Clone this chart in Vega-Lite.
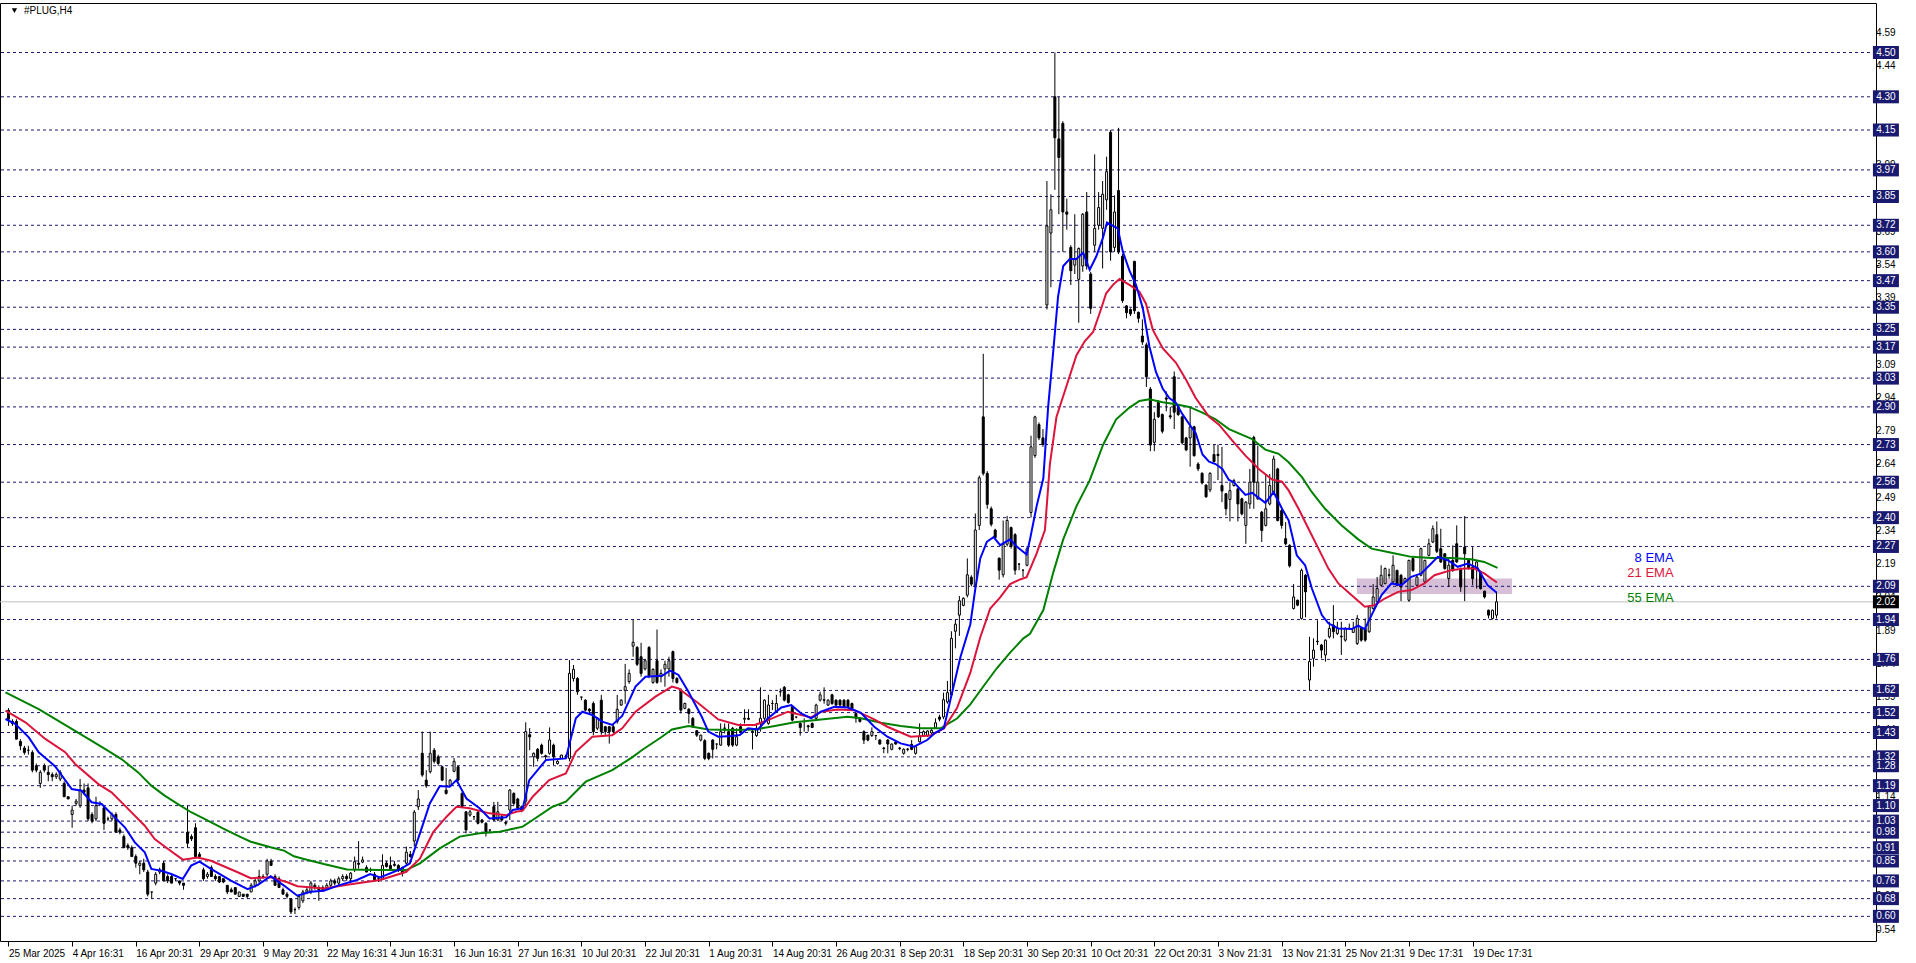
{
"$schema":"https://vega.github.io/schema/vega-lite/v6.json",
"width":1876,"height":938,
"autosize":{"type":"none"},
"padding":{"left":0,"top":3,"right":40,"bottom":22},
"background":"#ffffff",
"config":{"view":{"stroke":"#000000","strokeWidth":1},"font":"Liberation Sans","axis":{"labelOverlap":false,"labelFlush":false,"labelBound":false}},
"datasets":{
"box":[{"x1":338.9,"x2":377.9,"y1":2.055,"y2":2.125}],
"levels":[{"v":4.50},{"v":4.30},{"v":4.15},{"v":3.97},{"v":3.85},{"v":3.72},{"v":3.60},{"v":3.47},{"v":3.35},{"v":3.25},{"v":3.17},{"v":3.03},{"v":2.90},{"v":2.73},{"v":2.56},{"v":2.40},{"v":2.27},{"v":2.09},{"v":1.94},{"v":1.76},{"v":1.62},{"v":1.52},{"v":1.43},{"v":1.32},{"v":1.28},{"v":1.19},{"v":1.10},{"v":1.03},{"v":0.98},{"v":0.91},{"v":0.85},{"v":0.76},{"v":0.68},{"v":0.60}],
"pticks":[{"v":0.54},{"v":0.69},{"v":0.84},{"v":0.99},{"v":1.14},{"v":1.29},{"v":1.44},{"v":1.59},{"v":1.74},{"v":1.89},{"v":2.04},{"v":2.19},{"v":2.34},{"v":2.49},{"v":2.64},{"v":2.79},{"v":2.94},{"v":3.09},{"v":3.24},{"v":3.39},{"v":3.54},{"v":3.69},{"v":3.84},{"v":3.99},{"v":4.14},{"v":4.29},{"v":4.44},{"v":4.59}],
"bid":[{"v":2.02}],
"candles":[
{"i":0,"o":1.53,"h":1.54,"l":1.46,"c":1.49},{"i":1,"o":1.48,"h":1.49,"l":1.46,"c":1.47},{"i":2,"o":1.48,"h":1.49,"l":1.40,"c":1.40},{"i":3,"o":1.39,"h":1.40,"l":1.35,"c":1.37},{"i":4,"o":1.36,"h":1.37,"l":1.33,"c":1.34},{"i":5,"o":1.35,"h":1.37,"l":1.33,"c":1.35},{"i":6,"o":1.34,"h":1.35,"l":1.25,"c":1.26},{"i":7,"o":1.28,"h":1.29,"l":1.25,"c":1.26},{"i":8,"o":1.20,"h":1.26,"l":1.18,"c":1.25},{"i":9,"o":1.28,"h":1.29,"l":1.25,"c":1.26},
{"i":10,"o":1.25,"h":1.28,"l":1.21,"c":1.24},{"i":11,"o":1.24,"h":1.25,"l":1.21,"c":1.23},{"i":12,"o":1.23,"h":1.25,"l":1.22,"c":1.24},{"i":13,"o":1.22,"h":1.26,"l":1.21,"c":1.25},{"i":14,"o":1.20,"h":1.21,"l":1.14,"c":1.14},{"i":15,"o":1.14,"h":1.14,"l":1.13,"c":1.13},{"i":16,"o":1.06,"h":1.10,"l":1.00,"c":1.08},{"i":17,"o":1.11,"h":1.13,"l":1.10,"c":1.12},{"i":18,"o":1.10,"h":1.22,"l":1.09,"c":1.17},{"i":19,"o":1.17,"h":1.20,"l":1.15,"c":1.16},
{"i":20,"o":1.18,"h":1.20,"l":1.03,"c":1.04},{"i":21,"o":1.06,"h":1.07,"l":1.02,"c":1.03},{"i":22,"o":1.04,"h":1.14,"l":1.03,"c":1.10},{"i":23,"o":1.11,"h":1.12,"l":1.10,"c":1.11},{"i":24,"o":1.09,"h":1.10,"l":0.99,"c":1.02},{"i":25,"o":1.04,"h":1.05,"l":1.03,"c":1.04},{"i":26,"o":1.04,"h":1.07,"l":1.03,"c":1.06},{"i":27,"o":1.06,"h":1.07,"l":0.98,"c":0.98},{"i":28,"o":0.99,"h":1.00,"l":0.97,"c":0.98},{"i":29,"o":0.96,"h":0.97,"l":0.91,"c":0.91},
{"i":30,"o":0.92,"h":0.93,"l":0.90,"c":0.91},{"i":31,"o":0.91,"h":0.92,"l":0.87,"c":0.87},{"i":32,"o":0.87,"h":0.88,"l":0.82,"c":0.84},{"i":33,"o":0.83,"h":0.85,"l":0.79,"c":0.84},{"i":34,"o":0.84,"h":0.86,"l":0.80,"c":0.81},{"i":35,"o":0.80,"h":0.81,"l":0.69,"c":0.70},{"i":36,"o":0.71,"h":0.71,"l":0.68,"c":0.71},{"i":37,"o":0.75,"h":0.80,"l":0.74,"c":0.79},{"i":38,"o":0.80,"h":0.82,"l":0.79,"c":0.81},{"i":39,"o":0.84,"h":0.85,"l":0.76,"c":0.76},
{"i":40,"o":0.78,"h":0.79,"l":0.75,"c":0.76},{"i":41,"o":0.78,"h":0.79,"l":0.75,"c":0.75},{"i":42,"o":0.77,"h":0.77,"l":0.76,"c":0.77},{"i":43,"o":0.76,"h":0.76,"l":0.74,"c":0.75},{"i":44,"o":0.75,"h":0.75,"l":0.72,"c":0.74},{"i":45,"o":0.98,"h":1.10,"l":0.91,"c":0.93},{"i":46,"o":0.96,"h":0.97,"l":0.94,"c":0.95},{"i":47,"o":1.00,"h":1.02,"l":0.87,"c":0.87},{"i":48,"o":0.88,"h":0.89,"l":0.86,"c":0.87},{"i":49,"o":0.81,"h":0.82,"l":0.76,"c":0.77},
{"i":50,"o":0.78,"h":0.80,"l":0.77,"c":0.79},{"i":51,"o":0.82,"h":0.83,"l":0.78,"c":0.78},{"i":52,"o":0.78,"h":0.79,"l":0.76,"c":0.77},{"i":53,"o":0.78,"h":0.78,"l":0.75,"c":0.755},{"i":54,"o":0.77,"h":0.77,"l":0.75,"c":0.755},{"i":55,"o":0.74,"h":0.74,"l":0.70,"c":0.71},{"i":56,"o":0.72,"h":0.73,"l":0.71,"c":0.71},{"i":57,"o":0.73,"h":0.73,"l":0.70,"c":0.70},{"i":58,"o":0.69,"h":0.71,"l":0.69,"c":0.71},{"i":59,"o":0.70,"h":0.70,"l":0.69,"c":0.69},
{"i":60,"o":0.70,"h":0.70,"l":0.68,"c":0.69},{"i":61,"o":0.71,"h":0.75,"l":0.71,"c":0.74},{"i":62,"o":0.74,"h":0.77,"l":0.73,"c":0.76},{"i":63,"o":0.76,"h":0.81,"l":0.75,"c":0.78},{"i":64,"o":0.78,"h":0.79,"l":0.77,"c":0.78},{"i":65,"o":0.79,"h":0.86,"l":0.78,"c":0.85},{"i":66,"o":0.85,"h":0.86,"l":0.83,"c":0.83},{"i":67,"o":0.78,"h":0.79,"l":0.74,"c":0.74},{"i":68,"o":0.77,"h":0.78,"l":0.73,"c":0.73},{"i":69,"o":0.72,"h":0.73,"l":0.70,"c":0.70},
{"i":70,"o":0.70,"h":0.71,"l":0.68,"c":0.69},{"i":71,"o":0.68,"h":0.68,"l":0.61,"c":0.62},{"i":72,"o":0.63,"h":0.64,"l":0.61,"c":0.63},{"i":73,"o":0.64,"h":0.70,"l":0.63,"c":0.69},{"i":74,"o":0.67,"h":0.72,"l":0.66,"c":0.71},{"i":75,"o":0.71,"h":0.73,"l":0.70,"c":0.72},{"i":76,"o":0.71,"h":0.76,"l":0.70,"c":0.75},{"i":77,"o":0.74,"h":0.75,"l":0.72,"c":0.73},{"i":78,"o":0.73,"h":0.74,"l":0.67,"c":0.72},{"i":79,"o":0.72,"h":0.74,"l":0.71,"c":0.73},
{"i":80,"o":0.73,"h":0.75,"l":0.72,"c":0.74},{"i":81,"o":0.74,"h":0.77,"l":0.73,"c":0.76},{"i":82,"o":0.76,"h":0.77,"l":0.74,"c":0.75},{"i":83,"o":0.75,"h":0.78,"l":0.74,"c":0.77},{"i":84,"o":0.77,"h":0.79,"l":0.76,"c":0.78},{"i":85,"o":0.78,"h":0.79,"l":0.76,"c":0.77},{"i":86,"o":0.77,"h":0.80,"l":0.76,"c":0.795},{"i":87,"o":0.81,"h":0.87,"l":0.80,"c":0.847},{"i":88,"o":0.84,"h":0.94,"l":0.815,"c":0.835},{"i":89,"o":0.845,"h":0.87,"l":0.84,"c":0.855},
{"i":90,"o":0.82,"h":0.83,"l":0.80,"c":0.80},{"i":91,"o":0.81,"h":0.82,"l":0.80,"c":0.81},{"i":92,"o":0.79,"h":0.80,"l":0.76,"c":0.765},{"i":93,"o":0.77,"h":0.78,"l":0.755,"c":0.77},{"i":94,"o":0.77,"h":0.88,"l":0.765,"c":0.83},{"i":95,"o":0.84,"h":0.85,"l":0.82,"c":0.825},{"i":96,"o":0.83,"h":0.87,"l":0.81,"c":0.815},{"i":97,"o":0.835,"h":0.85,"l":0.825,"c":0.83},{"i":98,"o":0.83,"h":0.835,"l":0.80,"c":0.81},{"i":99,"o":0.82,"h":0.825,"l":0.78,"c":0.795},
{"i":100,"o":0.84,"h":0.915,"l":0.83,"c":0.89},{"i":101,"o":0.88,"h":0.895,"l":0.865,"c":0.87},{"i":102,"o":0.94,"h":1.08,"l":0.915,"c":1.07},{"i":103,"o":1.095,"h":1.17,"l":1.08,"c":1.13},{"i":104,"o":1.336,"h":1.434,"l":1.23,"c":1.238},{"i":105,"o":1.215,"h":1.26,"l":1.18,"c":1.19},{"i":106,"o":1.253,"h":1.434,"l":1.245,"c":1.336},{"i":107,"o":1.35,"h":1.36,"l":1.29,"c":1.30},{"i":108,"o":1.32,"h":1.33,"l":1.28,"c":1.29},{"i":109,"o":1.275,"h":1.28,"l":1.21,"c":1.215},
{"i":110,"o":1.17,"h":1.27,"l":1.15,"c":1.155},{"i":111,"o":1.19,"h":1.22,"l":1.185,"c":1.215},{"i":112,"o":1.255,"h":1.315,"l":1.25,"c":1.30},{"i":113,"o":1.275,"h":1.28,"l":1.21,"c":1.215},{"i":114,"o":1.155,"h":1.16,"l":1.09,"c":1.095},{"i":115,"o":1.072,"h":1.075,"l":0.975,"c":0.99},{"i":116,"o":1.057,"h":1.08,"l":1.05,"c":1.072},{"i":117,"o":1.05,"h":1.05,"l":1.035,"c":1.05},{"i":118,"o":1.07,"h":1.075,"l":1.015,"c":1.02},{"i":119,"o":1.035,"h":1.04,"l":1.02,"c":1.025},
{"i":120,"o":1.02,"h":1.025,"l":0.96,"c":0.982},{"i":121,"o":0.99,"h":0.99,"l":0.975,"c":0.99},{"i":122,"o":1.095,"h":1.117,"l":1.03,"c":1.035},{"i":123,"o":1.035,"h":1.117,"l":1.03,"c":1.072},{"i":124,"o":1.05,"h":1.06,"l":1.03,"c":1.035},{"i":125,"o":1.025,"h":1.03,"l":1.01,"c":1.02},{"i":126,"o":1.08,"h":1.175,"l":1.035,"c":1.17},{"i":127,"o":1.155,"h":1.16,"l":1.10,"c":1.11},{"i":128,"o":1.13,"h":1.135,"l":1.08,"c":1.088},{"i":129,"o":1.095,"h":1.10,"l":1.07,"c":1.08},
{"i":130,"o":1.12,"h":1.476,"l":1.09,"c":1.434},{"i":131,"o":1.42,"h":1.45,"l":1.35,"c":1.41},{"i":132,"o":1.32,"h":1.34,"l":1.275,"c":1.336},{"i":133,"o":1.354,"h":1.36,"l":1.30,"c":1.313},{"i":134,"o":1.373,"h":1.38,"l":1.33,"c":1.336},{"i":135,"o":1.325,"h":1.33,"l":1.31,"c":1.32},{"i":136,"o":1.336,"h":1.453,"l":1.33,"c":1.396},{"i":137,"o":1.373,"h":1.38,"l":1.283,"c":1.32},{"i":138,"o":1.29,"h":1.305,"l":1.285,"c":1.30},{"i":139,"o":1.313,"h":1.33,"l":1.31,"c":1.328},
{"i":140,"o":1.32,"h":1.33,"l":1.315,"c":1.32},{"i":141,"o":1.313,"h":1.757,"l":1.30,"c":1.697},{"i":142,"o":1.674,"h":1.735,"l":1.66,"c":1.715},{"i":143,"o":1.674,"h":1.68,"l":1.60,"c":1.614},{"i":144,"o":1.59,"h":1.59,"l":1.576,"c":1.59},{"i":145,"o":1.576,"h":1.58,"l":1.525,"c":1.531},{"i":146,"o":1.535,"h":1.54,"l":1.52,"c":1.528},{"i":147,"o":1.561,"h":1.57,"l":1.418,"c":1.434},{"i":148,"o":1.449,"h":1.50,"l":1.44,"c":1.494},{"i":149,"o":1.576,"h":1.60,"l":1.42,"c":1.434},
{"i":150,"o":1.456,"h":1.46,"l":1.42,"c":1.434},{"i":151,"o":1.456,"h":1.46,"l":1.38,"c":1.434},{"i":152,"o":1.456,"h":1.47,"l":1.43,"c":1.434},{"i":153,"o":1.479,"h":1.60,"l":1.47,"c":1.535},{"i":154,"o":1.554,"h":1.58,"l":1.55,"c":1.576},{"i":155,"o":1.62,"h":1.74,"l":1.56,"c":1.637},{"i":156,"o":1.66,"h":1.715,"l":1.65,"c":1.697},{"i":157,"o":1.82,"h":1.938,"l":1.772,"c":1.837},{"i":158,"o":1.814,"h":1.82,"l":1.73,"c":1.738},{"i":159,"o":1.772,"h":1.835,"l":1.682,"c":1.697},
{"i":160,"o":1.717,"h":1.76,"l":1.71,"c":1.754},{"i":161,"o":1.814,"h":1.82,"l":1.675,"c":1.682},{"i":162,"o":1.656,"h":1.72,"l":1.65,"c":1.715},{"i":163,"o":1.754,"h":1.895,"l":1.65,"c":1.656},{"i":164,"o":1.682,"h":1.715,"l":1.656,"c":1.697},{"i":165,"o":1.717,"h":1.754,"l":1.637,"c":1.738},{"i":166,"o":1.717,"h":1.772,"l":1.682,"c":1.754},{"i":167,"o":1.795,"h":1.80,"l":1.656,"c":1.674},{"i":168,"o":1.674,"h":1.68,"l":1.65,"c":1.656},{"i":169,"o":1.622,"h":1.63,"l":1.516,"c":1.531},
{"i":170,"o":1.539,"h":1.565,"l":1.535,"c":1.561},{"i":171,"o":1.535,"h":1.54,"l":1.471,"c":1.516},{"i":172,"o":1.494,"h":1.50,"l":1.45,"c":1.456},{"i":173,"o":1.438,"h":1.44,"l":1.41,"c":1.418},{"i":174,"o":1.396,"h":1.42,"l":1.39,"c":1.418},{"i":175,"o":1.393,"h":1.40,"l":1.305,"c":1.313},{"i":176,"o":1.336,"h":1.34,"l":1.305,"c":1.313},{"i":177,"o":1.396,"h":1.40,"l":1.313,"c":1.354},{"i":178,"o":1.378,"h":1.378,"l":1.354,"c":1.378},{"i":179,"o":1.373,"h":1.471,"l":1.37,"c":1.434},
{"i":180,"o":1.45,"h":1.471,"l":1.426,"c":1.449},{"i":181,"o":1.434,"h":1.471,"l":1.365,"c":1.373},{"i":182,"o":1.449,"h":1.455,"l":1.365,"c":1.373},{"i":183,"o":1.373,"h":1.449,"l":1.368,"c":1.411},{"i":184,"o":1.456,"h":1.471,"l":1.43,"c":1.434},{"i":185,"o":1.49,"h":1.535,"l":1.471,"c":1.494},{"i":186,"o":1.494,"h":1.535,"l":1.486,"c":1.49},{"i":187,"o":1.436,"h":1.441,"l":1.354,"c":1.434},{"i":188,"o":1.416,"h":1.471,"l":1.41,"c":1.449},{"i":189,"o":1.471,"h":1.634,"l":1.434,"c":1.494},
{"i":190,"o":1.494,"h":1.58,"l":1.471,"c":1.576},{"i":191,"o":1.471,"h":1.60,"l":1.465,"c":1.554},{"i":192,"o":1.561,"h":1.576,"l":1.531,"c":1.561},{"i":193,"o":1.524,"h":1.60,"l":1.52,"c":1.561},{"i":194,"o":1.614,"h":1.629,"l":1.592,"c":1.614},{"i":195,"o":1.634,"h":1.64,"l":1.57,"c":1.576},{"i":196,"o":1.60,"h":1.605,"l":1.56,"c":1.566},{"i":197,"o":1.546,"h":1.55,"l":1.48,"c":1.486},{"i":198,"o":1.50,"h":1.50,"l":1.494,"c":1.50},{"i":199,"o":1.471,"h":1.475,"l":1.416,"c":1.453},
{"i":200,"o":1.48,"h":1.494,"l":1.434,"c":1.479},{"i":201,"o":1.46,"h":1.465,"l":1.434,"c":1.456},{"i":202,"o":1.471,"h":1.475,"l":1.45,"c":1.453},{"i":203,"o":1.494,"h":1.56,"l":1.49,"c":1.554},{"i":204,"o":1.576,"h":1.614,"l":1.57,"c":1.60},{"i":205,"o":1.578,"h":1.634,"l":1.56,"c":1.576},{"i":206,"o":1.554,"h":1.58,"l":1.55,"c":1.576},{"i":207,"o":1.60,"h":1.605,"l":1.555,"c":1.561},{"i":208,"o":1.576,"h":1.58,"l":1.55,"c":1.554},{"i":209,"o":1.576,"h":1.58,"l":1.55,"c":1.554},
{"i":210,"o":1.576,"h":1.58,"l":1.54,"c":1.546},{"i":211,"o":1.576,"h":1.58,"l":1.54,"c":1.546},{"i":212,"o":1.561,"h":1.565,"l":1.53,"c":1.535},{"i":213,"o":1.516,"h":1.52,"l":1.474,"c":1.494},{"i":214,"o":1.494,"h":1.50,"l":1.475,"c":1.48},{"i":215,"o":1.434,"h":1.44,"l":1.378,"c":1.396},{"i":216,"o":1.418,"h":1.42,"l":1.39,"c":1.396},{"i":217,"o":1.416,"h":1.453,"l":1.41,"c":1.434},{"i":218,"o":1.416,"h":1.416,"l":1.396,"c":1.416},{"i":219,"o":1.396,"h":1.40,"l":1.375,"c":1.378},
{"i":220,"o":1.36,"h":1.365,"l":1.336,"c":1.358},{"i":221,"o":1.396,"h":1.40,"l":1.336,"c":1.378},{"i":222,"o":1.354,"h":1.38,"l":1.35,"c":1.378},{"i":223,"o":1.388,"h":1.39,"l":1.375,"c":1.378},{"i":224,"o":1.36,"h":1.365,"l":1.35,"c":1.358},{"i":225,"o":1.336,"h":1.358,"l":1.33,"c":1.354},{"i":226,"o":1.355,"h":1.36,"l":1.345,"c":1.354},{"i":227,"o":1.376,"h":1.396,"l":1.35,"c":1.354},{"i":228,"o":1.336,"h":1.37,"l":1.33,"c":1.366},{"i":229,"o":1.388,"h":1.471,"l":1.385,"c":1.414},
{"i":230,"o":1.416,"h":1.44,"l":1.41,"c":1.434},{"i":231,"o":1.416,"h":1.44,"l":1.41,"c":1.437},{"i":232,"o":1.428,"h":1.45,"l":1.42,"c":1.44},{"i":233,"o":1.453,"h":1.494,"l":1.45,"c":1.474},{"i":234,"o":1.50,"h":1.51,"l":1.48,"c":1.49},{"i":235,"o":1.50,"h":1.61,"l":1.49,"c":1.578},{"i":236,"o":1.568,"h":1.663,"l":1.56,"c":1.61},{"i":237,"o":1.60,"h":1.887,"l":1.59,"c":1.855},{"i":238,"o":1.887,"h":1.94,"l":1.81,"c":1.919},{"i":239,"o":1.96,"h":2.046,"l":1.866,"c":2.025},
{"i":240,"o":2.004,"h":2.04,"l":2.00,"c":2.036},{"i":241,"o":2.05,"h":2.216,"l":2.04,"c":2.142},{"i":242,"o":2.131,"h":2.14,"l":2.09,"c":2.10},{"i":243,"o":2.089,"h":2.419,"l":2.08,"c":2.344},{"i":244,"o":2.365,"h":2.59,"l":2.344,"c":2.58},{"i":245,"o":2.855,"h":3.14,"l":2.59,"c":2.60},{"i":246,"o":2.60,"h":2.61,"l":2.44,"c":2.46},{"i":247,"o":2.44,"h":2.45,"l":2.36,"c":2.37},{"i":248,"o":2.344,"h":2.35,"l":2.30,"c":2.31},{"i":249,"o":2.217,"h":2.22,"l":2.12,"c":2.163},
{"i":250,"o":2.142,"h":2.387,"l":2.13,"c":2.28},{"i":251,"o":2.28,"h":2.408,"l":2.27,"c":2.387},{"i":252,"o":2.355,"h":2.36,"l":2.26,"c":2.27},{"i":253,"o":2.323,"h":2.33,"l":2.142,"c":2.163},{"i":254,"o":2.19,"h":2.195,"l":2.163,"c":2.19},{"i":255,"o":2.163,"h":2.165,"l":2.131,"c":2.163},{"i":256,"o":2.185,"h":2.27,"l":2.18,"c":2.259},{"i":257,"o":2.423,"h":2.77,"l":2.40,"c":2.72},{"i":258,"o":2.68,"h":2.86,"l":2.67,"c":2.855},{"i":259,"o":2.82,"h":2.83,"l":2.75,"c":2.76},
{"i":260,"o":2.76,"h":2.80,"l":2.72,"c":2.73},{"i":261,"o":3.36,"h":3.92,"l":3.34,"c":3.717},{"i":262,"o":3.685,"h":3.86,"l":3.44,"c":3.79},{"i":263,"o":4.30,"h":4.50,"l":3.88,"c":4.115},{"i":264,"o":4.11,"h":4.30,"l":3.77,"c":4.026},{"i":265,"o":4.18,"h":4.19,"l":3.60,"c":3.78},{"i":266,"o":3.78,"h":3.84,"l":3.70,"c":3.77},{"i":267,"o":3.62,"h":3.63,"l":3.45,"c":3.515},{"i":268,"o":3.54,"h":3.77,"l":3.50,"c":3.57},{"i":269,"o":3.476,"h":3.62,"l":3.28,"c":3.615},
{"i":270,"o":3.536,"h":3.775,"l":3.51,"c":3.77},{"i":271,"o":3.78,"h":3.87,"l":3.52,"c":3.536},{"i":272,"o":3.50,"h":3.51,"l":3.32,"c":3.345},{"i":273,"o":3.63,"h":4.04,"l":3.60,"c":3.706},{"i":274,"o":3.72,"h":3.87,"l":3.70,"c":3.80},{"i":275,"o":3.706,"h":3.92,"l":3.525,"c":3.86},{"i":276,"o":3.835,"h":4.03,"l":3.79,"c":3.962},{"i":277,"o":4.14,"h":4.15,"l":3.56,"c":3.60},{"i":278,"o":3.62,"h":3.855,"l":3.60,"c":3.78},{"i":279,"o":3.877,"h":4.16,"l":3.59,"c":3.60},
{"i":280,"o":3.58,"h":3.59,"l":3.37,"c":3.38},{"i":281,"o":3.356,"h":3.36,"l":3.30,"c":3.325},{"i":282,"o":3.34,"h":3.345,"l":3.31,"c":3.32},{"i":283,"o":3.557,"h":3.56,"l":3.32,"c":3.334},{"i":284,"o":3.327,"h":3.33,"l":3.28,"c":3.30},{"i":285,"o":3.22,"h":3.295,"l":3.18,"c":3.193},{"i":286,"o":3.18,"h":3.19,"l":2.99,"c":3.036},{"i":287,"o":2.98,"h":2.99,"l":2.70,"c":2.728},{"i":288,"o":2.74,"h":2.876,"l":2.70,"c":2.844},{"i":289,"o":2.92,"h":2.93,"l":2.85,"c":2.855},
{"i":290,"o":2.866,"h":2.87,"l":2.78,"c":2.79},{"i":291,"o":2.94,"h":2.97,"l":2.88,"c":2.935},{"i":292,"o":2.86,"h":2.90,"l":2.845,"c":2.855},{"i":293,"o":3.036,"h":3.06,"l":2.80,"c":2.876},{"i":294,"o":2.897,"h":2.90,"l":2.86,"c":2.865},{"i":295,"o":2.855,"h":2.86,"l":2.73,"c":2.738},{"i":296,"o":2.76,"h":2.765,"l":2.70,"c":2.706},{"i":297,"o":2.76,"h":2.897,"l":2.63,"c":2.81},{"i":298,"o":2.81,"h":2.815,"l":2.675,"c":2.68},{"i":299,"o":2.642,"h":2.65,"l":2.61,"c":2.62},
{"i":300,"o":2.60,"h":2.605,"l":2.55,"c":2.557},{"i":301,"o":2.547,"h":2.55,"l":2.49,"c":2.494},{"i":302,"o":2.525,"h":2.605,"l":2.515,"c":2.60},{"i":303,"o":2.685,"h":2.73,"l":2.65,"c":2.653},{"i":304,"o":2.686,"h":2.73,"l":2.57,"c":2.68},{"i":305,"o":2.545,"h":2.72,"l":2.47,"c":2.52},{"i":306,"o":2.508,"h":2.51,"l":2.41,"c":2.44},{"i":307,"o":2.482,"h":2.56,"l":2.383,"c":2.522},{"i":308,"o":2.545,"h":2.575,"l":2.54,"c":2.567},{"i":309,"o":2.53,"h":2.535,"l":2.383,"c":2.462},
{"i":310,"o":2.485,"h":2.49,"l":2.41,"c":2.417},{"i":311,"o":2.365,"h":2.475,"l":2.282,"c":2.47},{"i":312,"o":2.462,"h":2.62,"l":2.44,"c":2.56},{"i":313,"o":2.762,"h":2.77,"l":2.44,"c":2.56},{"i":314,"o":2.485,"h":2.725,"l":2.48,"c":2.56},{"i":315,"o":2.425,"h":2.43,"l":2.29,"c":2.342},{"i":316,"o":2.365,"h":2.597,"l":2.36,"c":2.44},{"i":317,"o":2.462,"h":2.597,"l":2.455,"c":2.545},{"i":318,"o":2.515,"h":2.68,"l":2.51,"c":2.665},{"i":319,"o":2.62,"h":2.625,"l":2.383,"c":2.387},
{"i":320,"o":2.432,"h":2.44,"l":2.35,"c":2.365},{"i":321,"o":2.305,"h":2.38,"l":2.275,"c":2.282},{"i":322,"o":2.275,"h":2.28,"l":2.175,"c":2.182},{"i":323,"o":1.99,"h":2.10,"l":1.985,"c":2.042},{"i":324,"o":2.027,"h":2.03,"l":2.00,"c":2.005},{"i":325,"o":1.945,"h":2.17,"l":1.94,"c":2.162},{"i":326,"o":2.14,"h":2.145,"l":1.95,"c":2.065},{"i":327,"o":1.667,"h":1.862,"l":1.62,"c":1.75},{"i":328,"o":1.765,"h":1.855,"l":1.727,"c":1.802},{"i":329,"o":1.842,"h":1.937,"l":1.825,"c":1.84},
{"i":330,"o":1.825,"h":1.83,"l":1.765,"c":1.802},{"i":331,"o":1.78,"h":1.85,"l":1.75,"c":1.847},{"i":332,"o":1.862,"h":1.93,"l":1.855,"c":1.90},{"i":333,"o":1.915,"h":2.005,"l":1.855,"c":1.885},{"i":334,"o":1.877,"h":1.93,"l":1.87,"c":1.90},{"i":335,"o":1.865,"h":1.93,"l":1.78,"c":1.862},{"i":336,"o":1.847,"h":1.905,"l":1.84,"c":1.90},{"i":337,"o":1.90,"h":1.922,"l":1.895,"c":1.90},{"i":338,"o":1.882,"h":1.93,"l":1.88,"c":1.90},{"i":339,"o":1.832,"h":1.96,"l":1.825,"c":1.945},
{"i":340,"o":1.90,"h":1.905,"l":1.84,"c":1.847},{"i":341,"o":1.90,"h":1.945,"l":1.84,"c":1.847},{"i":342,"o":1.885,"h":2.00,"l":1.88,"c":1.997},{"i":343,"o":1.99,"h":2.10,"l":1.985,"c":2.042},{"i":344,"o":2.02,"h":2.132,"l":2.015,"c":2.08},{"i":345,"o":2.095,"h":2.185,"l":2.09,"c":2.14},{"i":346,"o":2.102,"h":2.175,"l":2.10,"c":2.17},{"i":347,"o":2.142,"h":2.17,"l":2.125,"c":2.14},{"i":348,"o":2.11,"h":2.23,"l":2.105,"c":2.185},{"i":349,"o":2.162,"h":2.165,"l":2.09,"c":2.095},
{"i":350,"o":2.14,"h":2.145,"l":2.023,"c":2.087},{"i":351,"o":2.11,"h":2.13,"l":2.105,"c":2.125},{"i":352,"o":2.027,"h":2.21,"l":2.02,"c":2.207},{"i":353,"o":2.215,"h":2.22,"l":2.155,"c":2.162},{"i":354,"o":2.095,"h":2.14,"l":2.09,"c":2.132},{"i":355,"o":2.14,"h":2.265,"l":2.135,"c":2.26},{"i":356,"o":2.11,"h":2.21,"l":2.105,"c":2.207},{"i":357,"o":2.23,"h":2.305,"l":2.225,"c":2.282},{"i":358,"o":2.29,"h":2.365,"l":2.285,"c":2.35},{"i":359,"o":2.323,"h":2.383,"l":2.24,"c":2.248},
{"i":360,"o":2.26,"h":2.35,"l":2.195,"c":2.20},{"i":361,"o":2.237,"h":2.24,"l":2.165,"c":2.17},{"i":362,"o":2.125,"h":2.215,"l":2.087,"c":2.185},{"i":363,"o":2.207,"h":2.275,"l":2.155,"c":2.162},{"i":364,"o":2.282,"h":2.365,"l":2.195,"c":2.20},{"i":365,"o":2.17,"h":2.175,"l":2.065,"c":2.087},{"i":366,"o":2.267,"h":2.407,"l":2.023,"c":2.237},{"i":367,"o":2.207,"h":2.21,"l":2.165,"c":2.173},{"i":368,"o":2.177,"h":2.267,"l":2.095,"c":2.125},{"i":369,"o":2.17,"h":2.205,"l":2.08,"c":2.20},
{"i":370,"o":2.155,"h":2.16,"l":2.075,"c":2.08},{"i":371,"o":2.068,"h":2.07,"l":2.035,"c":2.042},{"i":372,"o":1.982,"h":1.985,"l":1.945,"c":1.96},{"i":373,"o":1.945,"h":1.985,"l":1.94,"c":1.982},{"i":374,"o":1.96,"h":2.065,"l":1.945,"c":2.02}
],
"e8":[{"i":-0.75,"v":1.491},{"i":1.75,"v":1.468},{"i":5.1,"v":1.408},{"i":7.6,"v":1.341},{"i":11.75,"v":1.277},{"i":15.9,"v":1.175},{"i":18.4,"v":1.167},{"i":20.9,"v":1.115},{"i":23.4,"v":1.107},{"i":26.75,"v":1.047},{"i":29.25,"v":1.002},{"i":31.75,"v":0.934},{"i":34.25,"v":0.889},{"i":35.9,"v":0.814},{"i":38.4,"v":0.806},{"i":40.9,"v":0.791},{"i":43.8,"v":0.769},{"i":45.9,"v":0.829},{"i":48,"v":0.847},{"i":50.9,"v":0.814},{"i":55.9,"v":0.761},{"i":60.1,"v":0.723},{"i":62.6,"v":0.741},{"i":65.9,"v":0.781},{"i":69.25,"v":0.739},{"i":72.6,"v":0.693},{"i":75.9,"v":0.711},{"i":79.25,"v":0.716},{"i":83,"v":0.74},{"i":87.6,"v":0.764},{"i":90.9,"v":0.791},{"i":93.4,"v":0.776},{"i":98.4,"v":0.812},{"i":100.9,"v":0.839},{"i":104.25,"v":1.02},{"i":105.9,"v":1.11},{"i":108.4,"v":1.188},{"i":110.9,"v":1.185},{"i":112.6,"v":1.215},{"i":115.1,"v":1.132},{"i":118.4,"v":1.088},{"i":120.9,"v":1.042},{"i":125.1,"v":1.047},{"i":126.75,"v":1.08},{"i":129.25,"v":1.088},{"i":130.9,"v":1.215},{"i":135.1,"v":1.306},{"i":140.1,"v":1.313},{"i":142.6,"v":1.494},{"i":144.25,"v":1.524},{"i":146.75,"v":1.509},{"i":149.25,"v":1.479},{"i":151.75,"v":1.464},{"i":154.25,"v":1.505},{"i":157.6,"v":1.637},{"i":160.1,"v":1.682},{"i":164.25,"v":1.686},{"i":166.3,"v":1.709},{"i":168.4,"v":1.69},{"i":170.9,"v":1.614},{"i":174.25,"v":1.501},{"i":175.9,"v":1.434},{"i":178.4,"v":1.411},{"i":181.75,"v":1.414},{"i":183.8,"v":1.419},{"i":185.9,"v":1.449},{"i":188.4,"v":1.444},{"i":190.9,"v":1.494},{"i":194.25,"v":1.543},{"i":196.75,"v":1.554},{"i":199.25,"v":1.516},{"i":201.75,"v":1.494},{"i":204.25,"v":1.524},{"i":207.6,"v":1.546},{"i":210.9,"v":1.543},{"i":214.25,"v":1.519},{"i":217.6,"v":1.456},{"i":220.9,"v":1.411},{"i":224.25,"v":1.381},{"i":227.6,"v":1.366},{"i":230.9,"v":1.396},{"i":233,"v":1.43},{"i":235.1,"v":1.45},{"i":236.75,"v":1.578},{"i":239.25,"v":1.77},{"i":241.75,"v":1.919},{"i":243,"v":2.078},{"i":244.25,"v":2.216},{"i":245.9,"v":2.291},{"i":247.6,"v":2.312},{"i":249.25,"v":2.276},{"i":251.75,"v":2.302},{"i":253.4,"v":2.27},{"i":255.9,"v":2.234},{"i":256.75,"v":2.302},{"i":258.4,"v":2.451},{"i":260.1,"v":2.578},{"i":261.3,"v":2.898},{"i":262.6,"v":3.153},{"i":263.8,"v":3.398},{"i":265.1,"v":3.536},{"i":266.75,"v":3.568},{"i":268.4,"v":3.568},{"i":270.1,"v":3.596},{"i":271.75,"v":3.519},{"i":273.4,"v":3.579},{"i":275.1,"v":3.664},{"i":276.1,"v":3.732},{"i":277.6,"v":3.717},{"i":278.8,"v":3.706},{"i":280.1,"v":3.6},{"i":281.75,"v":3.515},{"i":283.4,"v":3.451},{"i":285.1,"v":3.345},{"i":286.75,"v":3.174},{"i":288.4,"v":3.058},{"i":290.1,"v":2.983},{"i":291.75,"v":2.94},{"i":293.4,"v":2.919},{"i":295.1,"v":2.866},{"i":296.75,"v":2.823},{"i":298.4,"v":2.781},{"i":300.1,"v":2.685},{"i":301.75,"v":2.653},{"i":303.4,"v":2.642},{"i":305.1,"v":2.62},{"i":306.75,"v":2.57},{"i":308,"v":2.56},{"i":310.9,"v":2.503},{"i":312.6,"v":2.512},{"i":315.9,"v":2.467},{"i":318,"v":2.515},{"i":320.1,"v":2.44},{"i":321.75,"v":2.388},{"i":323.8,"v":2.23},{"i":325.9,"v":2.185},{"i":327.6,"v":2.08},{"i":330.1,"v":1.96},{"i":331.75,"v":1.923},{"i":334.25,"v":1.90},{"i":337.6,"v":1.897},{"i":339.25,"v":1.912},{"i":340.9,"v":1.897},{"i":342.6,"v":1.96},{"i":345.1,"v":2.05},{"i":347.6,"v":2.103},{"i":350.1,"v":2.095},{"i":352.6,"v":2.133},{"i":355.1,"v":2.148},{"i":357.6,"v":2.193},{"i":359.25,"v":2.223},{"i":361.75,"v":2.208},{"i":364.25,"v":2.178},{"i":366.75,"v":2.193},{"i":369.25,"v":2.173},{"i":371.75,"v":2.095},{"i":374,"v":2.062}],
"e21":[{"i":-0.75,"v":1.529},{"i":4.25,"v":1.476},{"i":9.25,"v":1.401},{"i":14.25,"v":1.341},{"i":16.75,"v":1.288},{"i":22.6,"v":1.197},{"i":25.9,"v":1.160},{"i":29.25,"v":1.100},{"i":34.25,"v":1.009},{"i":36.75,"v":0.949},{"i":40.1,"v":0.904},{"i":43.8,"v":0.856},{"i":47.6,"v":0.866},{"i":50.9,"v":0.851},{"i":57.6,"v":0.799},{"i":60.9,"v":0.772},{"i":65.9,"v":0.776},{"i":70.1,"v":0.754},{"i":72.6,"v":0.736},{"i":79.25,"v":0.726},{"i":86,"v":0.745},{"i":93.4,"v":0.764},{"i":100,"v":0.801},{"i":103.4,"v":0.86},{"i":106.75,"v":0.98},{"i":110.1,"v":1.05},{"i":112.6,"v":1.095},{"i":115.9,"v":1.088},{"i":120.9,"v":1.065},{"i":125.1,"v":1.057},{"i":127.6,"v":1.072},{"i":129.25,"v":1.077},{"i":131.75,"v":1.14},{"i":135.9,"v":1.215},{"i":140.1,"v":1.245},{"i":142.6,"v":1.343},{"i":146.75,"v":1.411},{"i":151.75,"v":1.418},{"i":154.25,"v":1.449},{"i":157.6,"v":1.524},{"i":162.6,"v":1.592},{"i":166.75,"v":1.637},{"i":168.4,"v":1.629},{"i":173.4,"v":1.562},{"i":178.4,"v":1.489},{"i":183.4,"v":1.464},{"i":187.6,"v":1.464},{"i":190.9,"v":1.486},{"i":195.9,"v":1.524},{"i":201.75,"v":1.498},{"i":204.25,"v":1.524},{"i":208.4,"v":1.534},{"i":212.6,"v":1.531},{"i":217.6,"v":1.489},{"i":220.9,"v":1.456},{"i":226.75,"v":1.411},{"i":231.75,"v":1.416},{"i":235.1,"v":1.448},{"i":238.4,"v":1.54},{"i":241.75,"v":1.70},{"i":244.25,"v":1.86},{"i":246.75,"v":1.99},{"i":249.25,"v":2.04},{"i":251.75,"v":2.10},{"i":254.25,"v":2.121},{"i":255.9,"v":2.131},{"i":258.4,"v":2.238},{"i":260.5,"v":2.344},{"i":261.75,"v":2.642},{"i":263.4,"v":2.855},{"i":265.9,"v":2.993},{"i":268.4,"v":3.132},{"i":270.5,"v":3.196},{"i":272.6,"v":3.238},{"i":274.25,"v":3.323},{"i":275.9,"v":3.413},{"i":277.6,"v":3.451},{"i":279.25,"v":3.477},{"i":281.75,"v":3.451},{"i":284.25,"v":3.42},{"i":285.9,"v":3.366},{"i":287.6,"v":3.249},{"i":290.1,"v":3.165},{"i":293.4,"v":3.10},{"i":295.9,"v":3.025},{"i":298.4,"v":2.94},{"i":301.75,"v":2.855},{"i":304.25,"v":2.82},{"i":307.6,"v":2.748},{"i":310.9,"v":2.68},{"i":314.25,"v":2.62},{"i":317.6,"v":2.572},{"i":320.1,"v":2.563},{"i":321.75,"v":2.523},{"i":324.25,"v":2.44},{"i":326.75,"v":2.35},{"i":329.25,"v":2.26},{"i":331.75,"v":2.17},{"i":334.25,"v":2.103},{"i":337.6,"v":2.05},{"i":340.9,"v":1.998},{"i":343.4,"v":2.005},{"i":345.9,"v":2.035},{"i":349.25,"v":2.065},{"i":352.6,"v":2.073},{"i":355.9,"v":2.103},{"i":358.4,"v":2.14},{"i":362.6,"v":2.163},{"i":365.9,"v":2.17},{"i":368.4,"v":2.17},{"i":370.9,"v":2.148},{"i":374.1,"v":2.107}],
"e55":[{"i":-0.75,"v":1.611},{"i":7.6,"v":1.536},{"i":15.9,"v":1.446},{"i":24.25,"v":1.356},{"i":28.4,"v":1.310},{"i":32.6,"v":1.250},{"i":35.9,"v":1.190},{"i":39.25,"v":1.145},{"i":42.6,"v":1.107},{"i":45.9,"v":1.070},{"i":49.25,"v":1.040},{"i":54.25,"v":0.994},{"i":57.6,"v":0.964},{"i":60.9,"v":0.937},{"i":65.9,"v":0.912},{"i":69.25,"v":0.897},{"i":71.75,"v":0.871},{"i":74.25,"v":0.859},{"i":79.25,"v":0.836},{"i":85.1,"v":0.812},{"i":93.4,"v":0.809},{"i":100,"v":0.809},{"i":103.4,"v":0.839},{"i":108.4,"v":0.907},{"i":113.4,"v":0.96},{"i":118.4,"v":0.975},{"i":123.4,"v":0.982},{"i":129.25,"v":1.005},{"i":131.75,"v":1.035},{"i":136.75,"v":1.095},{"i":140.1,"v":1.118},{"i":145.1,"v":1.208},{"i":151.75,"v":1.26},{"i":156.75,"v":1.318},{"i":159.25,"v":1.351},{"i":164.25,"v":1.411},{"i":166.75,"v":1.444},{"i":170.9,"v":1.459},{"i":175.9,"v":1.444},{"i":181.75,"v":1.441},{"i":187.6,"v":1.444},{"i":192.6,"v":1.459},{"i":197.6,"v":1.476},{"i":204.25,"v":1.489},{"i":210.9,"v":1.501},{"i":214.25,"v":1.494},{"i":219.25,"v":1.474},{"i":224.25,"v":1.459},{"i":229.25,"v":1.449},{"i":234.25,"v":1.449},{"i":238.4,"v":1.493},{"i":241.75,"v":1.557},{"i":245.1,"v":1.64},{"i":248.4,"v":1.72},{"i":251.75,"v":1.791},{"i":255.1,"v":1.855},{"i":256.75,"v":1.876},{"i":260.1,"v":1.983},{"i":262.6,"v":2.153},{"i":265.1,"v":2.302},{"i":268.4,"v":2.451},{"i":271.75,"v":2.568},{"i":275.1,"v":2.728},{"i":278.4,"v":2.844},{"i":281.75,"v":2.897},{"i":284.25,"v":2.927},{"i":286.75,"v":2.934},{"i":290.1,"v":2.921},{"i":293.4,"v":2.912},{"i":296.75,"v":2.90},{"i":300.1,"v":2.874},{"i":303.4,"v":2.844},{"i":306.75,"v":2.80},{"i":312.6,"v":2.755},{"i":315.9,"v":2.707},{"i":319.25,"v":2.688},{"i":321.75,"v":2.65},{"i":325.1,"v":2.583},{"i":327.6,"v":2.515},{"i":330.9,"v":2.44},{"i":335.1,"v":2.365},{"i":339.25,"v":2.302},{"i":342.6,"v":2.26},{"i":347.6,"v":2.242},{"i":352.6,"v":2.223},{"i":357.6,"v":2.218},{"i":362.6,"v":2.218},{"i":367.6,"v":2.212},{"i":370.9,"v":2.20},{"i":374.25,"v":2.173}]
},
"layer":[
{"data":{"name":"box"},"mark":{"type":"rect","color":"#d8bfd8"},
 "encoding":{
  "x":{"field":"x1","type":"quantitative","title":null,"scale":{"domain":[-0.875,468.125],"nice":false,"zero":false},
   "axis":{"orient":"bottom","values":[0,16,32,48,64,80,96,112,128,144,160,176,192,208,224,240,256,272,288,304,320,336,352,368],
    "labelExpr":"['25 Mar 2025','4 Apr 16:31','16 Apr 20:31','29 Apr 20:31','9 May 20:31','22 May 16:31','4 Jun 16:31','16 Jun 16:31','27 Jun 16:31','10 Jul 20:31','22 Jul 20:31','1 Aug 20:31','14 Aug 20:31','26 Aug 20:31','8 Sep 20:31','18 Sep 20:31','30 Sep 20:31','10 Oct 20:31','22 Oct 20:31','3 Nov 21:31','13 Nov 21:31','25 Nov 21:31','9 Dec 17:31','19 Dec 17:31'][round(datum.value/16)]",
    "labelAlign":"left","labelBaseline":"top","labelFont":"Liberation Sans","labelFontSize":10,"labelColor":"#000000","labelPadding":2,"labelOverlap":false,"labelFlush":false,"labelBound":false,
    "tickSize":5,"tickColor":"#000000","domain":false,"grid":false}},
  "x2":{"field":"x2"},
  "y":{"field":"y1","type":"quantitative","title":null,"scale":{"domain":[0.4887,4.7235],"nice":false,"zero":false},
   "axis":{"orient":"right","values":[0.54,0.69,0.84,0.99,1.14,1.29,1.44,1.59,1.74,1.89,2.04,2.19,2.34,2.49,2.64,2.79,2.94,3.09,3.24,3.39,3.54,3.69,3.84,3.99,4.14,4.29,4.44,4.59],
    "labels":false,"tickSize":3,"tickColor":"#000000","domain":false,"grid":false}},
  "y2":{"field":"y2"}}},
{"data":{"name":"levels"},"mark":{"type":"rule","color":"#191970","strokeWidth":1,"strokeDash":[3,3]},
 "encoding":{"y":{"field":"v","type":"quantitative","title":null}}},
{"data":{"name":"bid"},"mark":{"type":"rule","color":"#c0c0c0","strokeWidth":1},
 "encoding":{"y":{"field":"v","type":"quantitative","title":null}}},
{"data":{"name":"candles"},"mark":{"type":"rule","color":"#000000","strokeWidth":1},
 "encoding":{"x":{"field":"i","type":"quantitative","title":null},"y":{"field":"l","type":"quantitative","title":null},"y2":{"field":"h"}}},
{"data":{"name":"candles"},"mark":{"type":"bar","size":2,"orient":"vertical","stroke":"#000000","strokeWidth":1},
 "encoding":{"x":{"field":"i","type":"quantitative","title":null},"y":{"field":"o","type":"quantitative","title":null},"y2":{"field":"c"},
  "fill":{"condition":{"test":"datum.c >= datum.o","value":"#ffffff"},"value":"#000000"}}},
{"data":{"name":"e55"},"mark":{"type":"line","color":"#008000","strokeWidth":2},
 "encoding":{"x":{"field":"i","type":"quantitative","title":null},"y":{"field":"v","type":"quantitative","title":null}}},
{"data":{"name":"e21"},"mark":{"type":"line","color":"#dc143c","strokeWidth":2},
 "encoding":{"x":{"field":"i","type":"quantitative","title":null},"y":{"field":"v","type":"quantitative","title":null}}},
{"data":{"name":"e8"},"mark":{"type":"line","color":"#0000ff","strokeWidth":2},
 "encoding":{"x":{"field":"i","type":"quantitative","title":null},"y":{"field":"v","type":"quantitative","title":null}}},
{"data":{"values":[{}]},"mark":{"type":"text","text":"8 EMA","color":"#0000ff","align":"right","baseline":"middle","fontSize":13,"font":"Liberation Sans"},
 "encoding":{"x":{"datum":418.5,"type":"quantitative"},"y":{"datum":2.216,"type":"quantitative"}}},
{"data":{"values":[{}]},"mark":{"type":"text","text":"21 EMA","color":"#dc143c","align":"right","baseline":"middle","fontSize":13,"font":"Liberation Sans"},
 "encoding":{"x":{"datum":418.5,"type":"quantitative"},"y":{"datum":2.150,"type":"quantitative"}}},
{"data":{"values":[{}]},"mark":{"type":"text","text":"55 EMA","color":"#008000","align":"right","baseline":"middle","fontSize":13,"font":"Liberation Sans"},
 "encoding":{"x":{"datum":418.5,"type":"quantitative"},"y":{"datum":2.039,"type":"quantitative"}}},
{"data":{"values":[{}]},"mark":{"type":"point","shape":"triangle-down","filled":true,"color":"#000000","size":28,"opacity":1},
 "encoding":{"x":{"datum":1.5,"type":"quantitative"},"y":{"datum":4.689,"type":"quantitative"}}},
{"data":{"values":[{}]},"mark":{"type":"text","text":"#PLUG,H4","color":"#000000","align":"left","baseline":"middle","fontSize":10,"font":"Liberation Sans"},
 "encoding":{"x":{"datum":3.9,"type":"quantitative"},"y":{"datum":4.689,"type":"quantitative"}}},
{"data":{"name":"pticks"},"mark":{"type":"text","color":"#000000","align":"left","baseline":"middle","fontSize":10,"font":"Liberation Sans"},
 "encoding":{"x":{"datum":469.4,"type":"quantitative"},"y":{"field":"v","type":"quantitative","title":null},"text":{"field":"v","type":"quantitative","format":".2f"}}},
{"data":{"name":"levels"},"mark":{"type":"tick","orient":"horizontal","size":26,"thickness":13,"color":"#191970","opacity":1},
 "encoding":{"x":{"datum":471.875,"type":"quantitative"},"y":{"field":"v","type":"quantitative","title":null}}},
{"data":{"name":"levels"},"mark":{"type":"text","color":"#ffffff","align":"center","baseline":"middle","fontSize":10,"font":"Liberation Sans"},
 "encoding":{"x":{"datum":471.875,"type":"quantitative"},"y":{"field":"v","type":"quantitative","title":null},"text":{"field":"v","type":"quantitative","format":".2f"}}},
{"data":{"name":"bid"},"mark":{"type":"tick","orient":"horizontal","size":26,"thickness":13,"color":"#000000","opacity":1},
 "encoding":{"x":{"datum":471.875,"type":"quantitative"},"y":{"field":"v","type":"quantitative","title":null}}},
{"data":{"name":"bid"},"mark":{"type":"text","color":"#ffffff","align":"center","baseline":"middle","fontSize":10,"font":"Liberation Sans"},
 "encoding":{"x":{"datum":471.875,"type":"quantitative"},"y":{"field":"v","type":"quantitative","title":null},"text":{"field":"v","type":"quantitative","format":".2f"}}}
]
}
